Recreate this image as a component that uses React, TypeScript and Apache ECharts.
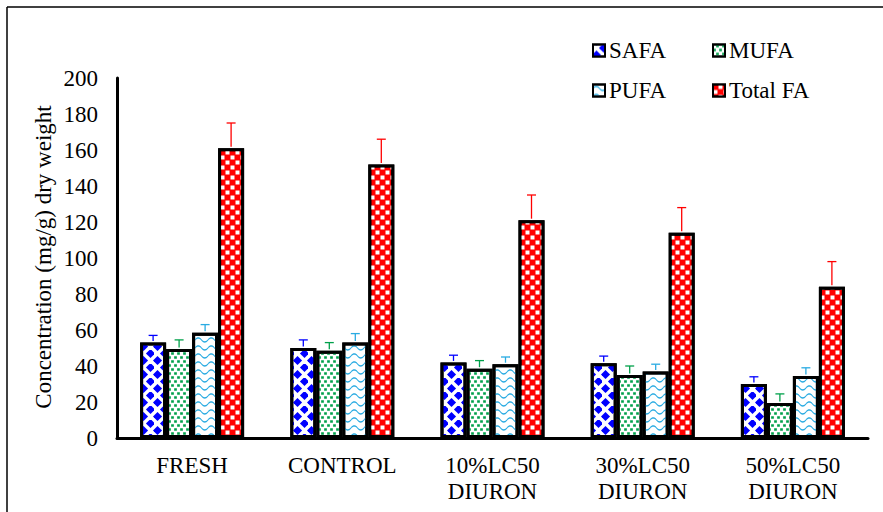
import React, { useEffect, useRef } from "react";
import * as echarts from "echarts";

const categories = ["FRESH", "CONTROL", "10%LC50\nDIURON", "30%LC50\nDIURON", "50%LC50\nDIURON"];
const seriesNames = ["SAFA", "MUFA", "PUFA", "Total FA"];
const safa = [53, 50, 42, 41.5, 30];
const safaTop = [57, 54.5, 46, 45.5, 34];
const mufa = [49.5, 48.5, 38.5, 35, 19.5];
const mufaTop = [54.5, 53, 43, 40, 24.5];
const pufa = [58.5, 53, 41, 37, 34.5];
const pufaTop = [63, 58, 45, 41, 39];
const total = [161, 152, 121, 114, 84];
const totalTop = [175, 166, 135, 128, 98];
const yTicks = { min: 0, max: 200, interval: 20 };

const FONT = "'Liberation Serif', 'Times New Roman', serif";
const FS = 23;
const colors = ["#0000ff", "#00a04a", "#29abe2", "#ff0000"];
const BAR_W = 26;

const wavePath =
  "path://M0,4 C3,0 7,0 10,4 C13,8 17,8 20,4 L20,6.2 C17,10.2 13,10.2 10,6.2 C7,2.2 3,2.2 0,6.2 Z";

const decals: any[] = [
  {
    symbol: "diamond",
    symbolSize: 1.3,
    color: colors[0],
    dashArrayX: [[7, 7], [0, 7, 7, 0]],
    dashArrayY: [6.5, 0],
  },
  {
    symbol: "rect",
    symbolSize: 0.9,
    color: colors[1],
    dashArrayX: [[3, 3], [0, 3, 3, 0]],
    dashArrayY: [3, 1],
  },
  {
    symbol: wavePath,
    symbolSize: 1,
    color: colors[2],
    dashArrayX: [13, 0],
    dashArrayY: [8, 0],
  },
  {
    symbol: "rect",
    symbolSize: 0.8,
    color: "#ffffff",
    dashArrayX: [[4.5, 4.5], [0, 4.5, 4.5, 0]],
    dashArrayY: [4.5, 0],
  },
];

const values = [safa, mufa, pufa, total];
const tops = [safaTop, mufaTop, pufaTop, totalTop];

export default function App() {
  const ref = useRef<HTMLDivElement>(null);
  useEffect(() => {
    if (!ref.current) return;
    const chart = echarts.init(ref.current, null, { renderer: "svg" });
    const barSeries = seriesNames.map((name, i) => ({
      name,
      type: "bar",
      data: values[i],
      barWidth: BAR_W,
      barGap: "0%",
      itemStyle: {
        color: i === 3 ? colors[3] : "#ffffff",
        borderColor: "#000",
        borderWidth: 3,
        decal: decals[i],
      },
      z: 2,
    }));
    const errSeries = seriesNames.map((name, i) => ({
      name: name + "_err",
      type: "custom",
      data: values[i].map((v, k) => [k, v, tops[i][k]]),
      z: 3,
      renderItem: (params: any, api: any) => {
        const base = api.coord([api.value(0), api.value(1)]);
        const top = api.coord([api.value(0), api.value(2)]);
        const off = (i - 1.5) * BAR_W;
        const x = base[0] + off;
        const st = { stroke: colors[i], lineWidth: 1.3 };
        return {
          type: "group",
          children: [
            { type: "line", shape: { x1: x, y1: base[1] - 1.5, x2: x, y2: top[1] }, style: st },
            { type: "line", shape: { x1: x - 4.5, y1: top[1], x2: x + 4.5, y2: top[1] }, style: st },
          ],
        };
      },
    }));
    const legendPos = [
      [592, 39],
      [712, 39],
      [592, 79],
      [712, 79],
    ];
    chart.setOption({
      animation: false,
      textStyle: { fontFamily: FONT },
      grid: { left: 117, right: 15, top: 78, bottom: 74, containLabel: false },
      legend: seriesNames.map((n, i) => ({
        data: [n],
        left: legendPos[i][0],
        top: legendPos[i][1],
        padding: 0,
        itemWidth: 12,
        itemHeight: 12,
        icon: "rect",
        selectedMode: false,
        textStyle: { fontFamily: FONT, fontSize: FS, color: "#000", padding: [0, 0, 0, -1] },
      })),
      xAxis: {
        type: "category",
        data: categories,
        axisLine: { lineStyle: { color: "#000", width: 3 } },
        axisTick: { show: false },
        axisLabel: {
          fontFamily: FONT,
          fontSize: FS,
          color: "#000",
          margin: 14,
          lineHeight: 26,
          interval: 0,
        },
      },
      yAxis: {
        type: "value",
        min: yTicks.min,
        max: yTicks.max,
        interval: yTicks.interval,
        splitLine: { show: false },
        axisLine: { show: true, lineStyle: { color: "#000", width: 3 } },
        axisTick: { show: false },
        axisLabel: { fontFamily: FONT, fontSize: FS, color: "#000", margin: 19 },
      },
      graphic: [
        {
          type: "text",
          x: 43,
          y: 257,
          rotation: Math.PI / 2,
          style: {
            text: "Concentration (mg/g) dry weight",
            fontFamily: FONT,
            fontSize: FS,
            fill: "#000",
            textAlign: "center",
            textVerticalAlign: "middle",
          },
        },
        { type: "line", shape: { x1: 7, y1: 7, x2: 7, y2: 512 }, style: { stroke: "#000", lineWidth: 1.5 } },
        { type: "line", shape: { x1: 7, y1: 7, x2: 883, y2: 7 }, style: { stroke: "#000", lineWidth: 1.5 } },
      ],
      series: [...barSeries, ...errSeries],
    });
    return () => chart.dispose();
  }, []);
  return <div ref={ref} style={{ width: 883, height: 512, position: "absolute", left: 0, top: 0 }} />;
}
